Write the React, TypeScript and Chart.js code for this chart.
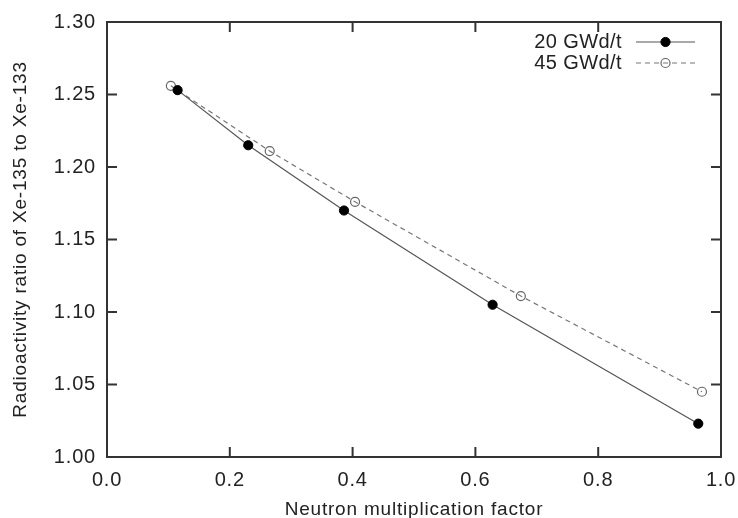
import React, { useEffect, useRef } from 'react';
import { Chart, registerables } from 'chart.js';

Chart.register(...registerables);

const xTicks = [0, 0.2, 0.4, 0.6, 0.8, 1.0];
const yTicks = [1.0, 1.05, 1.1, 1.15, 1.2, 1.25, 1.3];
const seriesNames = ['20 GWd/t', '45 GWd/t'];
const series20X = [0.115, 0.23, 0.386, 0.628, 0.963];
const series20Y = [1.253, 1.215, 1.17, 1.105, 1.023];
const series45X = [0.104, 0.265, 0.404, 0.674, 0.969];
const series45Y = [1.256, 1.211, 1.176, 1.111, 1.045];
const xTitle = 'Neutron multiplication factor';
const yTitle = 'Radioactivity ratio of Xe-135 to Xe-133';

const FONT = "'Liberation Sans', Arial, sans-serif";
const TEXT = '#222';

const framePlugin = {
  id: 'frameTicksLegend',
  beforeDraw(chart: any) {
    (chart.ctx as any).letterSpacing = '0.8px';
  },
  afterDraw(chart: any) {
    const { ctx, chartArea: a, scales } = chart;
    const xs = scales.x;
    const ys = scales.y;
    ctx.save();
    ctx.strokeStyle = '#333';
    ctx.lineWidth = 2;
    ctx.setLineDash([]);
    ctx.strokeRect(a.left, a.top, a.right - a.left, a.bottom - a.top);
    const L = 10;
    ctx.beginPath();
    xTicks.forEach((v) => {
      const px = xs.getPixelForValue(v);
      ctx.moveTo(px, a.bottom);
      ctx.lineTo(px, a.bottom - L);
      ctx.moveTo(px, a.top);
      ctx.lineTo(px, a.top + L);
    });
    yTicks.forEach((v) => {
      const py = ys.getPixelForValue(v);
      ctx.moveTo(a.left, py);
      ctx.lineTo(a.left + L, py);
      ctx.moveTo(a.right, py);
      ctx.lineTo(a.right - L, py);
    });
    ctx.stroke();

    // legend
    const rows = [a.top + 20, a.top + 41];
    const textRight = a.right - 99;
    const lx0 = a.right - 85;
    const lx1 = a.right - 26;
    const mx = (lx0 + lx1) / 2;
    (ctx as any).letterSpacing = '0.4px';
    ctx.font = `20px ${FONT}`;
    ctx.textAlign = 'right';
    ctx.textBaseline = 'middle';
    chart.data.datasets.forEach((ds: any, i: number) => {
      const y = rows[i];
      ctx.fillStyle = TEXT;
      ctx.fillText(seriesNames[i], textRight, y);
      ctx.strokeStyle = ds.borderColor;
      ctx.lineWidth = ds.borderWidth;
      ctx.setLineDash(ds.borderDash || []);
      ctx.beginPath();
      ctx.moveTo(lx0, y);
      ctx.lineTo(lx1, y);
      ctx.stroke();
      ctx.setLineDash([]);
      ctx.beginPath();
      ctx.arc(mx, y, ds.pointRadius, 0, Math.PI * 2);
      if (ds.pointBackgroundColor !== 'rgba(0,0,0,0)') {
        ctx.fillStyle = ds.pointBackgroundColor;
        ctx.fill();
      }
      ctx.strokeStyle = ds.pointBorderColor;
      ctx.lineWidth = ds.pointBorderWidth;
      ctx.stroke();
    });
    ctx.restore();
  },
};

export default function App() {
  const ref = useRef<HTMLCanvasElement>(null);
  useEffect(() => {
    if (!ref.current) return;
    const chart = new Chart(ref.current, {
      type: 'scatter',
      data: {
        datasets: [
          {
            label: seriesNames[0],
            data: series20X.map((x, i) => ({ x, y: series20Y[i] })),
            showLine: true,
            borderColor: '#555',
            borderWidth: 1.2,
            pointRadius: 4.6,
            pointBackgroundColor: '#000',
            pointBorderColor: '#000',
            pointBorderWidth: 1,
          },
          {
            label: seriesNames[1],
            data: series45X.map((x, i) => ({ x, y: series45Y[i] })),
            showLine: true,
            borderColor: '#777',
            borderWidth: 1.2,
            borderDash: [5, 4],
            pointRadius: 4.5,
            pointBackgroundColor: 'rgba(0,0,0,0)',
            pointBorderColor: '#666',
            pointBorderWidth: 1.2,
          },
        ] as any,
      },
      options: {
        animation: false,
        responsive: false,
        layout: { padding: { top: 22, right: 17, left: 0, bottom: 0 } },
        plugins: { legend: { display: false }, tooltip: { enabled: false } },
        scales: {
          x: {
            type: 'linear',
            min: 0,
            max: 1,
            afterBuildTicks: (s: any) => {
              s.ticks = xTicks.map((v) => ({ value: v }));
            },
            ticks: {
              callback: (v: any) => Number(v).toFixed(1),
              font: { family: FONT, size: 20 },
              color: TEXT,
              padding: 11,
              maxRotation: 0,
            },
            grid: { display: false, drawTicks: false },
            border: { display: false },
            title: {
              display: true,
              text: xTitle,
              font: { family: FONT, size: 19, lineHeight: 0.85 },
              color: TEXT,
              padding: 0,
            },
            afterFit: (s: any) => {
              s.height = 61;
              s.paddingLeft = 0;
              s.paddingRight = 0;
            },
          },
          y: {
            type: 'linear',
            min: 1.0,
            max: 1.3,
            afterBuildTicks: (s: any) => {
              s.ticks = yTicks.map((v) => ({ value: v }));
            },
            ticks: {
              callback: (v: any) => Number(v).toFixed(2),
              font: { family: FONT, size: 20 },
              color: TEXT,
              padding: 11,
            },
            grid: { display: false, drawTicks: false },
            border: { display: false },
            title: {
              display: true,
              text: yTitle,
              font: { family: FONT, size: 19 },
              color: TEXT,
              padding: { top: 9, bottom: 0 },
            },
            afterFit: (s: any) => {
              s.width = 107;
              s.paddingTop = 0;
              s.paddingBottom = 0;
            },
          },
        },
      } as any,
      plugins: [framePlugin],
    });
    return () => chart.destroy();
  }, []);
  return (
    <div style={{ position: 'fixed', left: 0, top: 0, width: 738, height: 518 }}>
      <canvas ref={ref} width={738} height={518} style={{ width: 738, height: 518 }} />
    </div>
  );
}
